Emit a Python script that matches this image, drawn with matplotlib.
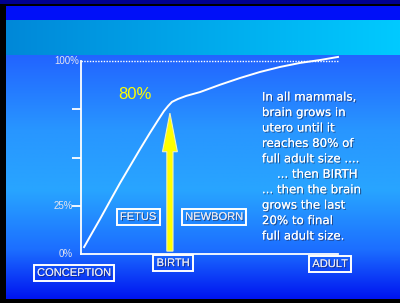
import numpy as np
import matplotlib
matplotlib.use('Agg')
import matplotlib.pyplot as plt
import matplotlib.patheffects as pe
from matplotlib.patches import FancyArrow

# brain growth curve, % of adult size vs time (0 = conception, 100 = adult)
t = [1.2, 4.3, 7.4, 11.3, 15.2, 19.1, 23.0, 26.8, 30.0, 32.3, 33.9, 35.4, 37.7,
     40.9, 46.3, 54.1, 61.9, 69.6, 77.4, 85.2, 93.0, 100]
size = [3.6, 10.9, 18.1, 27.5, 36.8, 45.6, 54.4, 62.7, 69.4, 74.1, 76.7, 78.8, 80.3,
        81.9, 83.9, 87.7, 91.2, 94.3, 96.9, 99.0, 100.5, 102.1]

pct_vals = [0, 25, 100]
pct_labels = ['0%', '25%', '100%']
ticks = [25, 50, 75]

stages = ['CONCEPTION', 'BIRTH', 'ADULT']
stage_x = [-2.7, 35.8, 96.9]
stage_y = [-9.8, -4.7, -5.2]
phases = ['FETUS', 'NEWBORN']
phase_x = [22.2, 51.8]
phase_y = 19.2
birth_t = 34.6
birth_top = 73

notes = ['In all mammals,', 'brain grows in', 'utero until it', 'reaches 80% of',
         'full adult size ....', '    ... then BIRTH', '... then the brain',
         'grows the last', '20% to final', 'full adult size.']

W, H = 400, 303
fig = plt.figure(figsize=(4, 3.03), dpi=100, facecolor='black')

# slide background
bg = fig.add_axes([0, 0, 1, 1])
bg.axis('off')
bg.add_patch(plt.Rectangle((0, 0), W, 4, color='#000090', lw=0))
bg.add_patch(plt.Rectangle((6, 6), W, 14, color='#0010f8', lw=0))
hx = np.linspace(0, 1, 200)
band = np.zeros((1, 200, 3))
band[0, :, 1] = np.interp(hx, [0, 1], [136, 202]) / 255
band[0, :, 2] = np.interp(hx, [0, 1], [216, 255]) / 255
bg.imshow(band, extent=[6, W, 55, 20], aspect='auto')
vy = np.linspace(55, 299, 300)
stops = [55, 130, 190, 250, 299]
grad = np.zeros((300, 1, 3))
grad[:, 0, 0] = np.interp(vy, stops, [34, 40, 40, 28, 0]) / 255
grad[:, 0, 1] = np.interp(vy, stops, [100, 150, 165, 110, 20]) / 255
grad[:, 0, 2] = np.interp(vy, stops, [255, 255, 255, 255, 240]) / 255
bg.imshow(grad, extent=[6, W, 299, 55], aspect='auto')
bg.set_xlim(0, W)
bg.set_ylim(H, 0)

shadow = [pe.withSimplePatchShadow(offset=(0.8, -0.8), shadow_rgbFace='#202040', alpha=0.6), pe.Normal()]

ax = fig.add_axes([81 / W, 49 / H, 257 / W, 193 / H])
ax.set_facecolor('none')
ax.set_xlim(0, 100)
ax.set_ylim(0, 100)
for s in ['top', 'right']:
    ax.spines[s].set_visible(False)
for s in ['left', 'bottom']:
    ax.spines[s].set_color('white')
    ax.spines[s].set_linewidth(1.3)
ax.set_xticks([])
ax.set_yticks(ticks)
ax.set_yticklabels([])
ax.tick_params(axis='y', colors='white', length=6.5, width=1.3)

ax.plot([0, 100], [100, 100], color='white', lw=1.0, ls=(0, (1, 1)), clip_on=False)
ax.plot(t, size, color='white', lw=1.4, clip_on=False, solid_joinstyle='round')

for v, lab in zip(pct_vals, pct_labels):
    xo = -0.8 if v == 100 else -3.1
    ax.text(xo, v, lab, ha='right', va='center', color='#e4e4f0', fontsize=7,
            family='Liberation Sans')

ax.add_patch(FancyArrow(birth_t, 1.5, 0, birth_top - 1.5, width=2.4, head_width=5.8,
                        head_length=20, length_includes_head=True, fc='#ffff00',
                        ec='#f0f0c0', lw=0.8, clip_on=False))
ax.text(21, 82.4, '80%', ha='center', va='center', color='#ffff00', fontsize=12,
        family='Liberation Sans')

box = dict(boxstyle='square,pad=0.3', fc='none', ec='white', lw=1.4)
for lab, x, y in zip(stages, stage_x, stage_y):
    ax.text(x, y, lab, ha='center', va='center', color='#e8e8f0', fontsize=8,
            family='Liberation Sans', bbox=box, clip_on=False, path_effects=shadow)
for lab, x in zip(phases, phase_x):
    ax.text(x, phase_y, lab, ha='center', va='center', color='#e8e8f0', fontsize=8,
            family='Liberation Sans', bbox=box, path_effects=shadow)

for i, line in enumerate(notes):
    ax.text(70.4, 81.3 - i * 8.0, line, ha='left', va='center', color='white',
            fontsize=8.5, family='DejaVu Sans', path_effects=shadow, clip_on=False)

fig.savefig('out.png', dpi=100, facecolor='black')
